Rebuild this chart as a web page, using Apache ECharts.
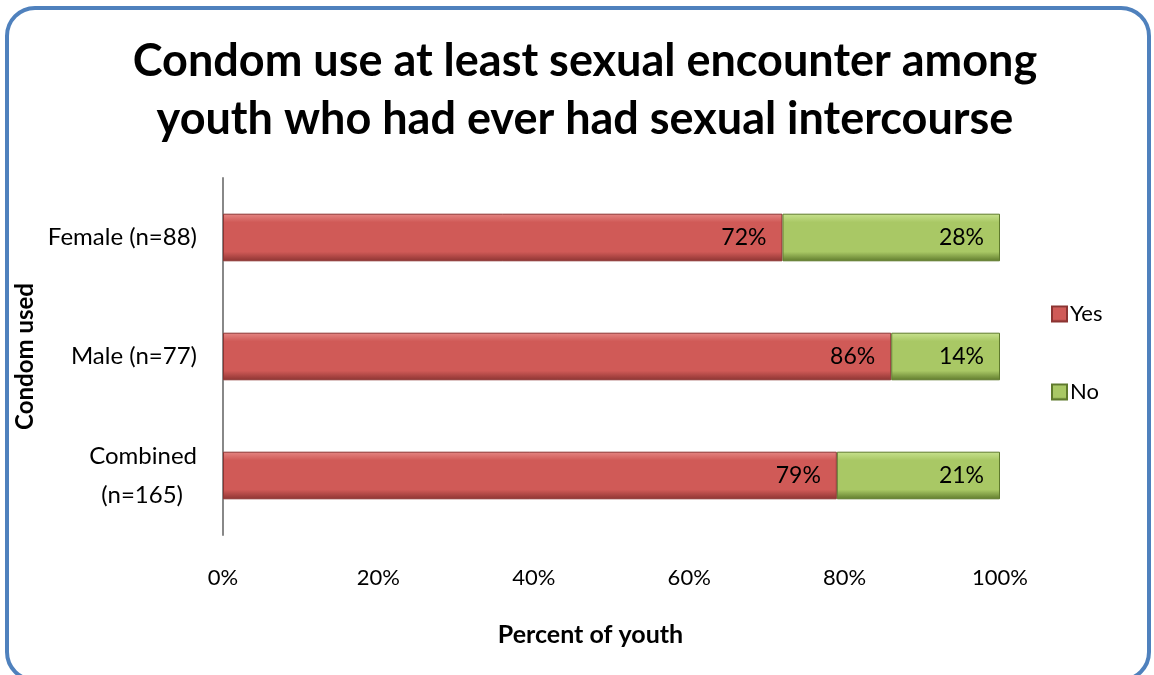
<!DOCTYPE html>
<html>
<head>
<meta charset="utf-8">
<script src="https://cdn.jsdelivr.net/npm/echarts@6/dist/echarts.min.js"></script>
<style>
  html, body { margin: 0; padding: 0; background: #fff; }
  #main { width: 1154px; height: 675px; }
</style>
</head>
<body>
<div id="main"></div>
<script>
// categories, bottom to top
var categories = ['Combined\n(n=165)', 'Male (n=77)', 'Female (n=88)'];
var yesValues = [79, 86, 72];
var noValues = [21, 14, 28];
var xTicks = [0, 20, 40, 60, 80, 100];

var font = 'Lato, "Open Sans", sans-serif';
var chart = echarts.init(document.getElementById('main'));

function barStyle(top, mid, edge) {
  return {
    color: new echarts.graphic.LinearGradient(0, 0, 0, 1, [
      { offset: 0, color: top },
      { offset: 0.18, color: mid },
      { offset: 0.8, color: mid },
      { offset: 1, color: edge }
    ]),
    borderColor: edge,
    borderWidth: 1
  };
}

chart.setOption({
  backgroundColor: '#fff',
  textStyle: { fontFamily: font },
  title: {
    text: 'Condom use at least sexual encounter among\nyouth who had ever had sexual intercourse',
    left: 580,
    textAlign: 'center',
    top: 27,
    textStyle: { fontSize: 45, fontWeight: 'bold', color: '#000', lineHeight: 58, fontFamily: font }
  },
  graphic: [{
    type: 'rect',
    shape: { x: 7, y: 8, width: 1142, height: 672, r: 28 },
    style: { fill: 'none', stroke: '#4F81BD', lineWidth: 4 },
    silent: true
  }],
  legend: {
    orient: 'vertical',
    left: 1046,
    top: 298,
    itemGap: 56,
    itemWidth: 15,
    itemHeight: 15,
    icon: 'rect',
    data: ['Yes', 'No'],
    textStyle: { fontSize: 22, color: '#000', padding: [0, 0, 0, -2] }
  },
  grid: { left: 223, right: 154, top: 178, bottom: 140 },
  xAxis: {
    type: 'value',
    min: 0,
    max: 100,
    interval: 20,
    name: 'Percent of youth',
    nameLocation: 'middle',
    nameGap: 87,
    nameTextStyle: { fontSize: 25, fontWeight: 'bold', color: '#000', padding: [0, 42, 0, 0] },
    axisLine: { show: false },
    axisTick: { show: false },
    splitLine: { show: false },
    axisLabel: {
      margin: 32,
      fontSize: 22,
      color: '#000',
      customValues: xTicks,
      formatter: function (v) { return v + '%'; }
    }
  },
  yAxis: {
    type: 'category',
    data: categories,
    name: 'Condom used',
    nameLocation: 'middle',
    nameGap: 176,
    nameRotate: 90,
    nameTextStyle: { fontSize: 24, fontWeight: 'bold', color: '#000' },
    axisLine: { show: true, lineStyle: { color: '#888', width: 2 } },
    axisTick: { show: false },
    axisLabel: {
      margin: 26,
      fontSize: 24,
      color: '#000',
      align: 'right',
      formatter: function (v) {
        var parts = v.split('\n');
        if (parts.length > 1) return '{a|' + parts[0] + '}\n{b|' + parts[1] + '}';
        return v;
      },
      rich: {
        a: { fontSize: 24, color: '#000', lineHeight: 39 },
        b: { fontSize: 24, color: '#000', lineHeight: 39, padding: [0, 14, 0, 0] }
      }
    },
    splitLine: { show: false }
  },
  series: [{
    name: 'Yes',
    type: 'bar',
    stack: 'total',
    barWidth: '40%',
    data: yesValues,
    itemStyle: barStyle('#e58784', '#d05a57', '#8c3432'),
    label: {
      show: true, position: 'insideRight', fontSize: 23, color: '#000', distance: 16,
      formatter: function (p) { return p.value + '%'; }
    }
  }, {
    name: 'No',
    type: 'bar',
    stack: 'total',
    data: noValues,
    itemStyle: barStyle('#c8e28f', '#a9c865', '#5f7a2c'),
    label: {
      show: true, position: 'insideRight', fontSize: 23, color: '#000', distance: 16,
      formatter: function (p) { return p.value + '%'; }
    }
  }]
});
</script>
</body>
</html>
